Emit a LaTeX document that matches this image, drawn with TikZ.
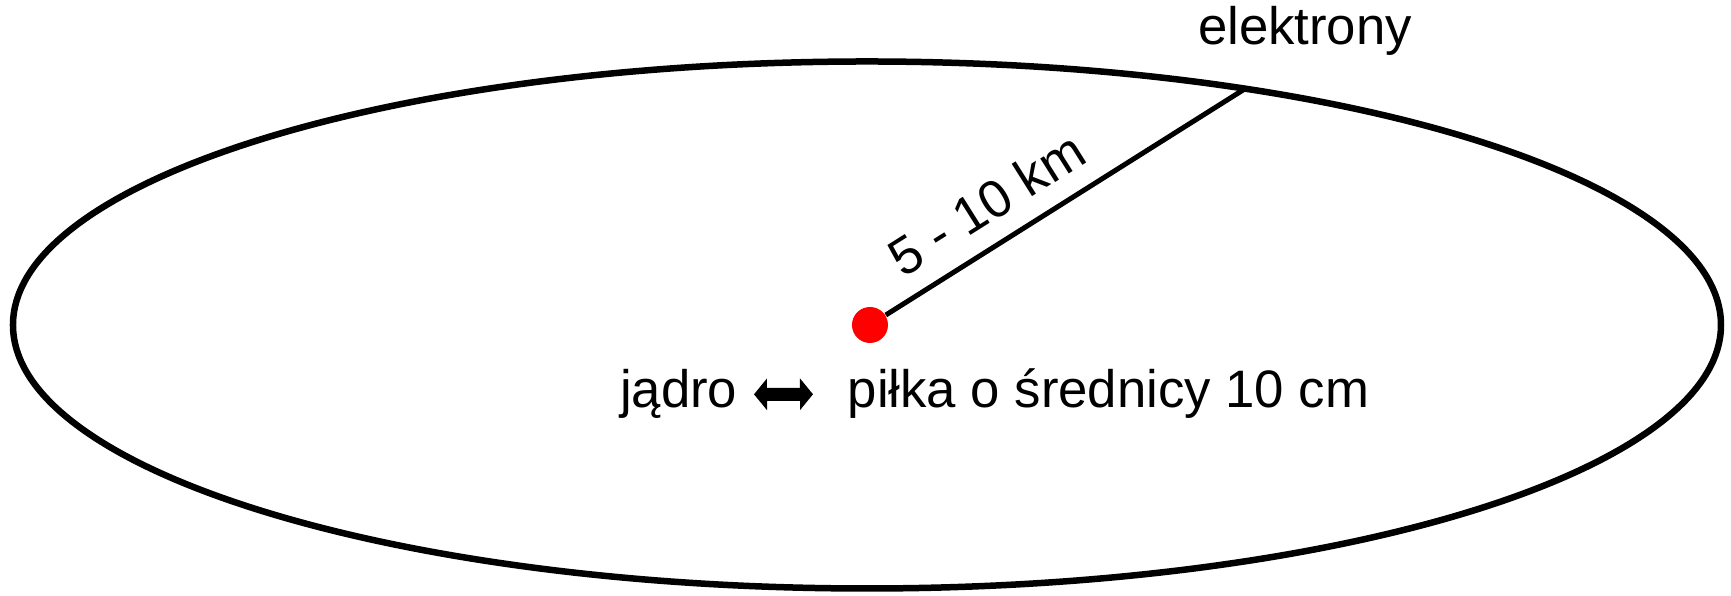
\documentclass[tikz,border=0pt]{standalone}
\usepackage{fontspec}
\setmainfont{Liberation Sans}
\usetikzlibrary{arrows.meta,shapes.geometric}

\begin{document}
\begin{tikzpicture}[x=1.000cm,y=1.000cm,font=\fontsize{15}{18}\selectfont,
 orbitline/.style={draw,ellipse,line width=0.65mm,inner sep=0pt,outer sep=0pt,minimum width=17.08cm,minimum height=5.27cm},
 dot/.style={circle,fill=red,inner sep=0pt,minimum size=3.6mm},
 txt/.style={inner sep=0pt},
 twoway/.style={{Triangle[width=3.1mm,length=1.3mm]}-{Triangle[width=3.1mm,length=1.3mm]},line width=1.3mm,shorten <=1.6mm,shorten >=3.4mm}]
\useasboundingbox (-8.670,3.250) rectangle (8.640,-2.710);
\node[orbitline] (orbit) at (0.000,0.000) {};
\node[dot] (nucleus) at (0.030,0.000) {};
\node[txt,anchor=base] (elektrony) at (4.380,2.800) {elektrony};
\node[txt,anchor=base east] (jadro) at (-1.290,-0.830) {jądro};
\node[txt,anchor=base west] (pilka) at (-0.200,-0.830) {piłka o średnicy 10 cm};
\draw[line width=0.5mm] (nucleus) -- node[pos=0.34,above=2pt,sloped] {5 - 10 km} (orbit.32);
\draw[twoway] (jadro) -- (pilka);
\end{tikzpicture}
\end{document}
